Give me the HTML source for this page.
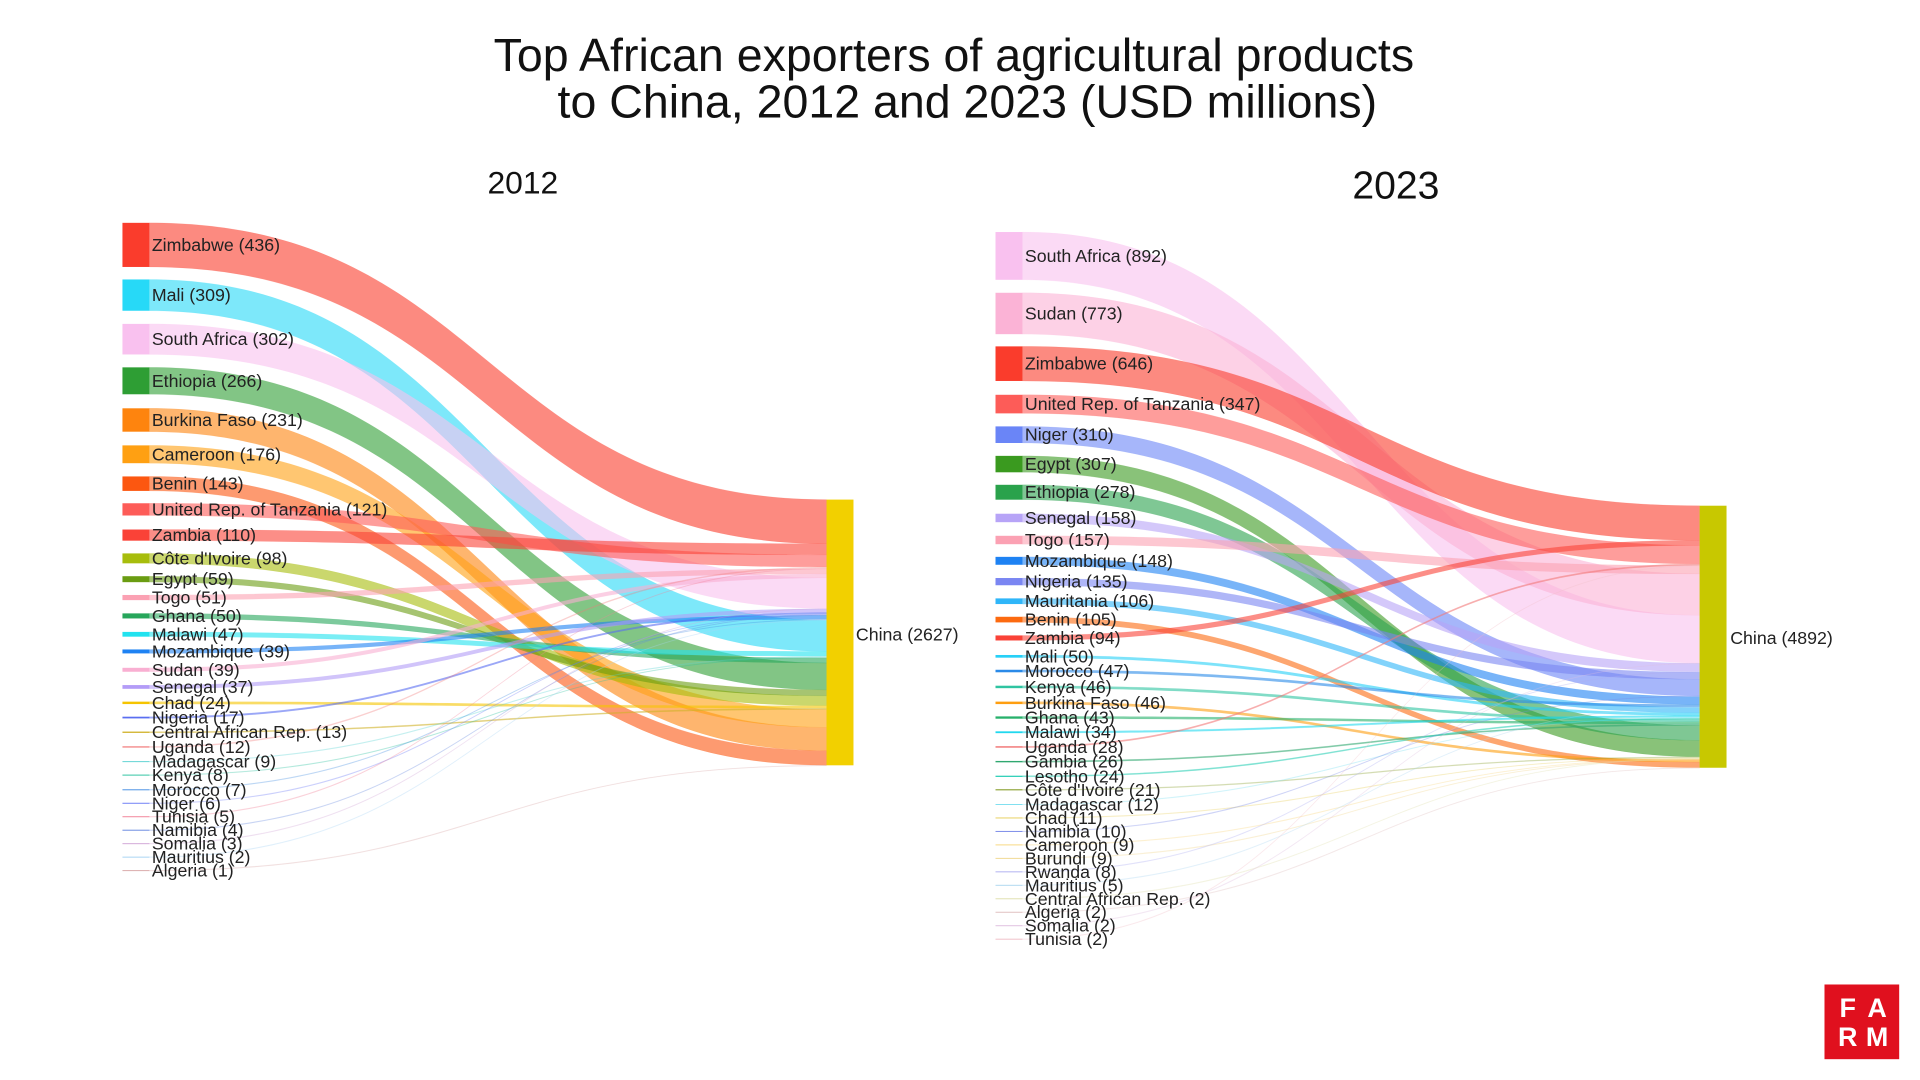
<!DOCTYPE html>
<html><head><meta charset="utf-8"><style>
html,body{margin:0;padding:0;background:#fff;}
svg{display:block;}
text{font-family:"Liberation Sans",Arial,sans-serif;}
.l{font-size:14.5px;fill:#222;dominant-baseline:central;}
</style></head><body>
<svg id="s" width="1920" height="1080" viewBox="0 0 1568 882" preserveAspectRatio="none" xmlns="http://www.w3.org/2000/svg">
<rect width="1568" height="882" fill="#fff"/>
<text x="779" y="45" font-size="38" text-anchor="middle" dominant-baseline="central" fill="#111">Top African exporters of agricultural products</text>
<text x="790" y="83" font-size="38" text-anchor="middle" dominant-baseline="central" fill="#111">to China, 2012 and 2023 (USD millions)</text>
<text x="427" y="149" font-size="26" text-anchor="middle" dominant-baseline="central" fill="#111">2012</text>
<text x="1140" y="152" font-size="32" text-anchor="middle" dominant-baseline="central" fill="#111">2023</text>
<g id="links"></g>
<g id="nodes"></g>
<g>
<text class="l" x="124" y="200">Zimbabwe (436)</text>
<text class="l" x="124" y="241">Mali (309)</text>
<text class="l" x="124" y="277">South Africa (302)</text>
<text class="l" x="124" y="311">Ethiopia (266)</text>
<text class="l" x="124" y="343">Burkina Faso (231)</text>
<text class="l" x="124" y="371">Cameroon (176)</text>
<text class="l" x="124" y="395">Benin (143)</text>
<text class="l" x="124" y="416">United Rep. of Tanzania (121)</text>
<text class="l" x="124" y="437">Zambia (110)</text>
<text class="l" x="124" y="456">Côte d'Ivoire (98)</text>
<text class="l" x="124" y="473">Egypt (59)</text>
<text class="l" x="124" y="488">Togo (51)</text>
<text class="l" x="124" y="503">Ghana (50)</text>
<text class="l" x="124" y="518">Malawi (47)</text>
<text class="l" x="124" y="532">Mozambique (39)</text>
<text class="l" x="124" y="547">Sudan (39)</text>
<text class="l" x="124" y="561">Senegal (37)</text>
<text class="l" x="124" y="574">Chad (24)</text>
<text class="l" x="124" y="586">Nigeria (17)</text>
<text class="l" x="124" y="598">Central African Rep. (13)</text>
<text class="l" x="124" y="610">Uganda (12)</text>
<text class="l" x="124" y="622">Madagascar (9)</text>
<text class="l" x="124" y="633">Kenya (8)</text>
<text class="l" x="124" y="645">Morocco (7)</text>
<text class="l" x="124" y="656">Niger (6)</text>
<text class="l" x="124" y="667">Tunisia (5)</text>
<text class="l" x="124" y="678">Namibia (4)</text>
<text class="l" x="124" y="689">Somalia (3)</text>
<text class="l" x="124" y="700">Mauritius (2)</text>
<text class="l" x="124" y="711">Algeria (1)</text>
<text class="l" x="699" y="518">China (2627)</text>

<text class="l" x="837" y="209">South Africa (892)</text>
<text class="l" x="837" y="256">Sudan (773)</text>
<text class="l" x="837" y="297">Zimbabwe (646)</text>
<text class="l" x="837" y="330">United Rep. of Tanzania (347)</text>
<text class="l" x="837" y="355">Niger (310)</text>
<text class="l" x="837" y="379">Egypt (307)</text>
<text class="l" x="837" y="402">Ethiopia (278)</text>
<text class="l" x="837" y="423">Senegal (158)</text>
<text class="l" x="837" y="441">Togo (157)</text>
<text class="l" x="837" y="458">Mozambique (148)</text>
<text class="l" x="837" y="475">Nigeria (135)</text>
<text class="l" x="837" y="491">Mauritania (106)</text>
<text class="l" x="837" y="506">Benin (105)</text>
<text class="l" x="837" y="521">Zambia (94)</text>
<text class="l" x="837" y="536">Mali (50)</text>
<text class="l" x="837" y="548">Morocco (47)</text>
<text class="l" x="837" y="561">Kenya (46)</text>
<text class="l" x="837" y="574">Burkina Faso (46)</text>
<text class="l" x="837" y="586">Ghana (43)</text>
<text class="l" x="837" y="598">Malawi (34)</text>
<text class="l" x="837" y="610">Uganda (28)</text>
<text class="l" x="837" y="622">Gambia (26)</text>
<text class="l" x="837" y="634">Lesotho (24)</text>
<text class="l" x="837" y="645">Côte d'Ivoire (21)</text>
<text class="l" x="837" y="657">Madagascar (12)</text>
<text class="l" x="837" y="668">Chad (11)</text>
<text class="l" x="837" y="679">Namibia (10)</text>
<text class="l" x="837" y="690">Cameroon (9)</text>
<text class="l" x="837" y="701">Burundi (9)</text>
<text class="l" x="837" y="712">Rwanda (8)</text>
<text class="l" x="837" y="723">Mauritius (5)</text>
<text class="l" x="837" y="734">Central African Rep. (2)</text>
<text class="l" x="837" y="745">Algeria (2)</text>
<text class="l" x="837" y="756">Somalia (2)</text>
<text class="l" x="837" y="767">Tunisia (2)</text>
<text class="l" x="1413" y="521">China (4892)</text>
</g>
<rect x="1490" y="804" width="61" height="61" fill="#e0101e"/>
<g font-size="22" font-weight="bold" fill="#fff" text-anchor="middle" dominant-baseline="central">
<text x="1509" y="823">F</text><text x="1533" y="823">A</text>
<text x="1509" y="847">R</text><text x="1533" y="847">M</text>
</g>
</svg>
<script>
var L=[["Zimbabwe",436,"#fa3c2c",200],["Mali",309,"#27d9f7",241],["South Africa",302,"#f9c1ef",277],["Ethiopia",266,"#2e9e34",311],["Burkina Faso",231,"#fe840e",343],["Cameroon",176,"#ffa012",371],["Benin",143,"#fc5710",395],["United Rep. of Tanzania",121,"#fd5c58",416],["Zambia",110,"#fa4237",437],["Cote",98,"#a7bd0c",456],["Egypt",59,"#6a9c12",473],["Togo",51,"#fba1b3",488],["Ghana",50,"#27a65b",503],["Malawi",47,"#21e2ef",518],["Mozambique",39,"#1e82f3",532],["Sudan",39,"#f9afd2",547],["Senegal",37,"#b39cf7",561],["Chad",24,"#f5c400",574],["Nigeria",17,"#5a6ef1",586],["Central African Rep.",13,"#d1b22a",598],["Uganda",12,"#f27a7a",610],["Madagascar",9,"#5fd3d3",622],["Kenya",8,"#2fc4a1",633],["Morocco",7,"#4a91e3",645],["Niger",6,"#6f7ff5",656],["Tunisia",5,"#f2849a",667],["Namibia",4,"#6a8ae0",678],["Somalia",3,"#d2a8d8",689],["Mauritius",2,"#a9d4f3",700],["Algeria",1,"#d9a9a9",711]];
var R=[["South Africa",892,"#f9c1ef",209],["Sudan",773,"#fbb3d6",256],["Zimbabwe",646,"#fa3c2c",297],["United Rep. of Tanzania",347,"#fd5c58",330],["Niger",310,"#6a85f7",355],["Egypt",307,"#3a9a1f",379],["Ethiopia",278,"#2aa24c",402],["Senegal",158,"#b7a4f7",423],["Togo",157,"#fba1b3",441],["Mozambique",148,"#1e82f3",458],["Nigeria",135,"#7a86f2",475],["Mauritania",106,"#2fb6f9",491],["Benin",105,"#fc6a10",506],["Zambia",94,"#fa4237",521],["Mali",50,"#27d0f7",536],["Morocco",47,"#2a8ae8",548],["Kenya",46,"#2fc4a1",561],["Burkina Faso",46,"#fe9e10",574],["Ghana",43,"#27b06b",586],["Malawi",34,"#21d8ef",598],["Uganda",28,"#f27a7a",610],["Gambia",26,"#30a870",622],["Lesotho",24,"#30d0b8",634],["Cote",21,"#8aa030",645],["Madagascar",12,"#7fe0f0",657],["Chad",11,"#e8d060",668],["Namibia",10,"#7a8ae8",679],["Cameroon",9,"#f8d880",690],["Burundi",9,"#f0d890",701],["Rwanda",8,"#b0b0f0",712],["Mauritius",5,"#b0d8f0",723],["Central African Rep.",2,"#e0e0b0",734],["Algeria",2,"#e0c0c0",745],["Somalia",2,"#e0c0e0",756],["Tunisia",2,"#f0c0c8",767]];
var NS="http://www.w3.org/2000/svg",lg=document.getElementById("links"),ng=document.getElementById("nodes");
function el(t,a,p){var e=document.createElementNS(NS,t);for(var k in a)e.setAttribute(k,a[k]);p.appendChild(e);return e;}
function draw(D,x0,x1,ct,cb,cc){
 var tot=0;D.forEach(function(d){tot+=d[1];});
 var k=(cb-ct)/tot;
 var s=D.slice().sort(function(a,b){return b[0].localeCompare(a[0]);});
 var y=ct,tp={};
 s.forEach(function(d){tp[d[0]]=y;y+=d[1]*k;});
 var xa=x0+22,xm=(xa+x1)/2;
 D.forEach(function(d){
  var h=Math.max(d[1]*k,0.8),y0=d[3]-h/2,y1=tp[d[0]],hb=Math.max(d[1]*k,0.6);
  var small=d[1]*k<1;
  el("path",{d:"M"+xa+","+y0+"C"+xm+","+y0+" "+xm+","+y1+" "+x1+","+y1+"L"+x1+","+(y1+hb)+"C"+xm+","+(y1+hb)+" "+xm+","+(y0+h)+" "+xa+","+(y0+h)+"Z",fill:d[2],"fill-opacity":small?0.35:0.6,stroke:d[2],"stroke-opacity":small?0.1:0.2,"stroke-width":0.4},lg);
  el("rect",{x:x0,y:y0,width:22,height:h,fill:d[2]},ng);
 });
 el("rect",{x:x1,y:ct,width:22,height:cb-ct,fill:cc},ng);
}
draw(L,100,675,408,625,"#f2d000");
draw(R,813,1388,413,627,"#c8c800");
</script>
</body></html>
